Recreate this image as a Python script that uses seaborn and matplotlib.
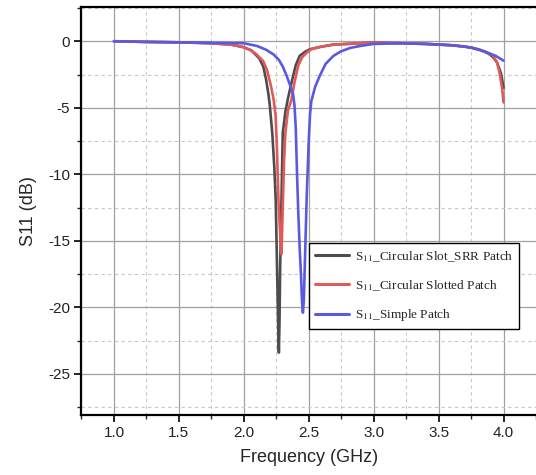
import numpy as np
import pandas as pd
import matplotlib
matplotlib.use("Agg")
import matplotlib.pyplot as plt
from matplotlib.ticker import MultipleLocator
import seaborn as sns

# S11 curves (GHz, dB)
srr_freq = [1.0, 1.25, 1.5, 1.75, 1.9, 2.0, 2.06, 2.12, 2.15, 2.17, 2.19, 2.2, 2.22,
            2.235, 2.246, 2.256, 2.265, 2.27, 2.275, 2.28, 2.29, 2.3, 2.32, 2.34, 2.37,
            2.4, 2.43, 2.47, 2.51, 2.6, 2.69, 2.8, 3.0, 3.2, 3.4, 3.5, 3.6, 3.7, 3.76,
            3.82, 3.88, 3.92, 3.95, 3.98, 4.0]
srr_db = [0.0, -0.05, -0.08, -0.15, -0.25, -0.45, -0.7, -1.3, -1.9, -2.8, -4.0, -4.8, -7.0,
          -9.5, -12.0, -17.0, -21.5, -23.4, -21.0, -17.0, -12.0, -6.9, -5.3, -4.3, -3.0,
          -1.8, -1.1, -0.8, -0.6, -0.4, -0.25, -0.2, -0.1, -0.15, -0.2, -0.25, -0.3, -0.4, -0.5,
          -0.65, -0.9, -1.2, -1.6, -2.4, -3.5]

slot_freq = [1.0, 1.25, 1.5, 1.75, 1.9, 2.0, 2.05, 2.1, 2.15, 2.18, 2.21, 2.23, 2.245,
             2.255, 2.267, 2.28, 2.29, 2.3, 2.31, 2.32, 2.34, 2.367, 2.39, 2.42, 2.45,
             2.48, 2.52, 2.6, 2.7, 2.8, 3.0, 3.2, 3.4, 3.5, 3.6, 3.7, 3.76, 3.82, 3.88,
             3.92, 3.95, 3.97, 3.99, 4.0]
slot_db = [0.0, -0.05, -0.08, -0.15, -0.25, -0.45, -0.65, -1.0, -1.5, -2.2, -3.4, -4.4, -5.6,
           -8.0, -12.0, -14.5, -16.0, -12.5, -9.0, -6.9, -5.2, -4.4, -3.1, -1.8, -1.2,
           -0.9, -0.6, -0.4, -0.25, -0.2, -0.1, -0.15, -0.2, -0.25, -0.3, -0.4, -0.5, -0.65, -0.9,
           -1.1, -1.6, -2.4, -3.6, -4.6]

simple_freq = [1.0, 1.25, 1.5, 1.75, 2.0, 2.1, 2.17, 2.23, 2.27, 2.3, 2.33, 2.36, 2.38,
               2.39, 2.4, 2.41, 2.42, 2.43, 2.44, 2.448, 2.455, 2.462, 2.475, 2.485, 2.5,
               2.51, 2.52, 2.55, 2.585, 2.63, 2.69, 2.75, 2.82, 2.9, 3.0, 3.2, 3.4, 3.5,
               3.6, 3.7, 3.76, 3.85, 3.94, 4.0]
simple_db = [0.0, -0.05, -0.08, -0.12, -0.15, -0.35, -0.63, -1.0, -1.4, -1.9, -2.6, -3.4, -4.0,
             -4.8, -6.5, -10.0, -13.0, -15.5, -17.5, -19.5, -20.4, -19.5, -15.0, -11.5, -7.5,
             -5.5, -4.5, -3.4, -2.6, -1.7, -1.1, -0.75, -0.5, -0.35, -0.2, -0.15, -0.2, -0.25,
             -0.3, -0.4, -0.5, -0.75, -1.1, -1.46]

labels = ["S$_{11}$_Circular Slot_SRR Patch",
          "S$_{11}$_Circular Slotted Patch",
          "S$_{11}$_Simple Patch"]
colors = ["#4d4d4d", "#e05a5a", "#5a5ae0"]

df = pd.concat([
    pd.DataFrame({"freq": srr_freq, "s11": srr_db, "ant": labels[0]}),
    pd.DataFrame({"freq": slot_freq, "s11": slot_db, "ant": labels[1]}),
    pd.DataFrame({"freq": simple_freq, "s11": simple_db, "ant": labels[2]}),
])

sns.set_style("white")
plt.rcParams["font.family"] = ["Liberation Sans", "DejaVu Sans"]
plt.rcParams["axes.unicode_minus"] = False
plt.rcParams["mathtext.fontset"] = "stix"

fig = plt.figure(figsize=(5.36, 4.75), dpi=100)
ax = fig.add_axes([0.152, 0.126, 0.848, 0.86])

sns.lineplot(data=df, x="freq", y="s11", hue="ant", palette=colors, estimator=None,
             sort=False, linewidth=1.9, ax=ax)

ax.set_xlim(0.75, 4.25)
ax.set_ylim(-28.1, 2.6)
ax.xaxis.set_major_locator(MultipleLocator(0.5))
ax.xaxis.set_minor_locator(MultipleLocator(0.25))
ax.yaxis.set_major_locator(MultipleLocator(5))
ax.yaxis.set_minor_locator(MultipleLocator(2.5))
ax.xaxis.set_major_formatter(matplotlib.ticker.FormatStrFormatter("%.1f"))

ax.grid(which="major", color="#a0a0a0", linewidth=0.9, linestyle="-")
ax.grid(which="minor", color="#c8c8c8", linewidth=0.8, linestyle=(0, (3, 3)))
ax.set_axisbelow(True)

for side in ["left", "bottom", "top"]:
    ax.spines[side].set_visible(True)
    ax.spines[side].set_color("black")
    ax.spines[side].set_linewidth(1.6)
ax.spines["right"].set_visible(False)

ax.tick_params(which="major", direction="out", length=5, width=1.2, labelsize=11,
               bottom=True, left=True, top=False, right=False, pad=3, colors="black")
ax.tick_params(which="minor", direction="out", length=3, width=1.0,
               bottom=True, left=True, top=False, right=False)
ax.tick_params(axis="x", labelcolor="#222222")
ax.tick_params(axis="y", labelcolor="#222222")

ax.set_xlabel("Frequency (GHz)", fontsize=13, labelpad=6)
ax.set_ylabel("S11 (dB)", fontsize=13, labelpad=8)

leg = ax.legend(loc="upper right", bbox_to_anchor=(0.963, 0.421), borderaxespad=0,
                frameon=True, fancybox=False, edgecolor="black", framealpha=1,
                prop={"family": "Liberation Serif", "size": 9.5},
                handlelength=2.6, labelspacing=1.1, borderpad=0.45, handletextpad=0.45)
leg.get_frame().set_linewidth(1.0)
for line in leg.get_lines():
    line.set_linewidth(2.2)

fig.savefig("out.png", dpi=100)
